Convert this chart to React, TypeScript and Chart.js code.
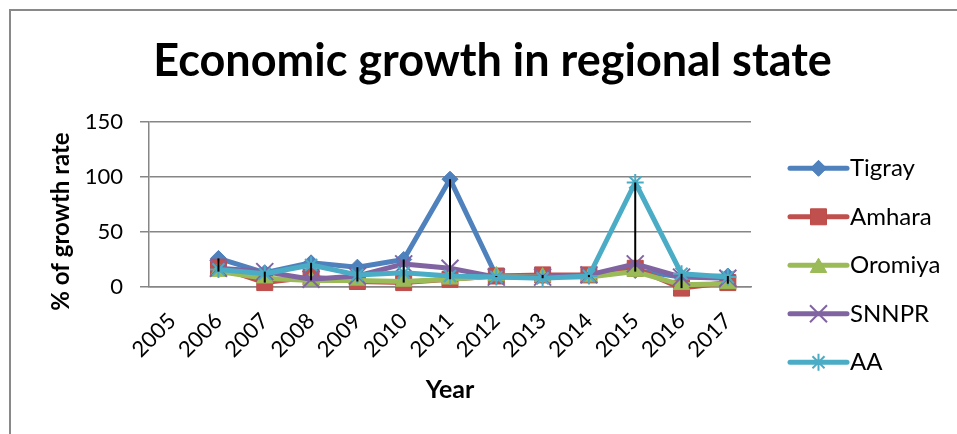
import React, { useEffect, useRef } from "react";
import { Chart, registerables } from "chart.js";

Chart.register(...registerables);

// ---------- data ----------
const years = ["2005", "2006", "2007", "2008", "2009", "2010", "2011", "2012", "2013", "2014", "2015", "2016", "2017"];
const tigray = [null, 26, 13, 22, 18, 25, 98, 10, 10, 10, 15, 9, 10];
const amhara = [null, 18, 4, 9, 5, 4, 7, 10, 11, 11, 17, -1, 4];
const oromiya = [null, 14, 8, 6, 6, 5, 7, 10, 9, 9, 14, 2, 3];
const snnpr = [null, 17, 14, 7, 10, 21, 17, 9, 9, 11, 21, 9, 8];
const aa = [null, 16, 12, 20, 11, 13, 10, 9, 8, 10, 95, 12, 9];
const seriesNames = ["Tigray", "Amhara", "Oromiya", "SNNPR", "AA"];
const yMin = 0;
const yMax = 150;
const yStep = 50;
const chartTitle = "Economic growth in regional state";
const xAxisTitle = "Year";
const yAxisTitle = "% of growth rate";

// ---------- styles ----------
const FONT = "Lato";
const GRID = "#868686";
const seriesStyles = [
  { color: "#4F81BD", border: "#4A7EBB", point: "rectRot", radius: 8, bw: 1 },
  { color: "#C0504D", border: "#BE4B48", point: "rect", radius: 11.3, bw: 1 },
  { color: "#9BBB59", border: "#98B954", point: "triangle", radius: 9.5, bw: 1 },
  { color: "#8064A2", border: "#8064A2", point: "crossRot", radius: 12, bw: 2 },
  { color: "#4BACC6", border: "#4BACC6", point: "star", radius: 8.5, bw: 2 },
];

function drawMarker(ctx: CanvasRenderingContext2D, style: string, x: number, y: number, r: number, fill: string, stroke: string, bw: number) {
  ctx.save();
  ctx.fillStyle = fill;
  ctx.strokeStyle = stroke;
  ctx.lineWidth = bw;
  ctx.beginPath();
  if (style === "rectRot") {
    ctx.moveTo(x, y - r);
    ctx.lineTo(x + r, y);
    ctx.lineTo(x, y + r);
    ctx.lineTo(x - r, y);
    ctx.closePath();
    ctx.fill();
    ctx.stroke();
  } else if (style === "rect") {
    const s = r * Math.SQRT1_2;
    ctx.rect(x - s, y - s, 2 * s, 2 * s);
    ctx.fill();
    ctx.stroke();
  } else if (style === "triangle") {
    const yc = y + r * 0.25;
    ctx.moveTo(x, yc - r);
    ctx.lineTo(x + 0.866 * r, yc + 0.5 * r);
    ctx.lineTo(x - 0.866 * r, yc + 0.5 * r);
    ctx.closePath();
    ctx.fill();
    ctx.stroke();
  } else if (style === "crossRot") {
    const d = r * Math.SQRT1_2;
    ctx.moveTo(x - d, y - d);
    ctx.lineTo(x + d, y + d);
    ctx.moveTo(x + d, y - d);
    ctx.lineTo(x - d, y + d);
    ctx.stroke();
  } else if (style === "star") {
    const d = r * Math.SQRT1_2;
    ctx.moveTo(x, y - r);
    ctx.lineTo(x, y + r);
    ctx.moveTo(x - r, y);
    ctx.lineTo(x + r, y);
    ctx.moveTo(x - d, y - d);
    ctx.lineTo(x + d, y + d);
    ctx.moveTo(x + d, y - d);
    ctx.lineTo(x - d, y + d);
    ctx.stroke();
  }
  ctx.restore();
}

const framePlugin = {
  id: "frame",
  beforeDraw(chart: any) {
    const ctx = chart.ctx;
    ctx.save();
    ctx.strokeStyle = "#898989";
    ctx.lineWidth = 2;
    ctx.beginPath();
    ctx.moveTo(10, chart.height);
    ctx.lineTo(10, 10);
    ctx.lineTo(chart.width, 10);
    ctx.stroke();
    ctx.restore();
  },
};

const highLowPlugin = {
  id: "highLow",
  afterDatasetsDraw(chart: any) {
    const { ctx } = chart;
    const xs = chart.scales.x;
    const ys = chart.scales.y;
    ctx.save();
    ctx.strokeStyle = "#000000";
    ctx.lineWidth = 2;
    (chart.data.labels as string[]).forEach((_, i) => {
      const vals = chart.data.datasets
        .map((d: any) => d.data[i])
        .filter((v: any) => v !== null && v !== undefined);
      if (vals.length < 2) return;
      const px = xs.getPixelForValue(i);
      ctx.beginPath();
      ctx.moveTo(px, ys.getPixelForValue(Math.max(...vals)));
      ctx.lineTo(px, ys.getPixelForValue(Math.min(...vals)));
      ctx.stroke();
    });
    ctx.restore();
  },
};

const textPlugin = {
  id: "extraText",
  afterDraw(chart: any) {
    const { ctx, chartArea } = chart;
    // y axis title
    ctx.save();
    ctx.fillStyle = "#000000";
    ctx.font = `bold 24px ${FONT}`;
    ctx.textAlign = "center";
    ctx.textBaseline = "middle";
    ctx.translate(61, 221.5);
    ctx.rotate(-Math.PI / 2);
    ctx.fillText(yAxisTitle, 0, 0);
    ctx.restore();

    // legend
    const lx0 = chartArea.right + 39;
    const lx1 = chartArea.right + 96;
    const tx = chartArea.right + 99;
    seriesNames.forEach((name, i) => {
      const st = seriesStyles[i];
      const ly = 168.3 + 48.5 * i;
      ctx.save();
      ctx.strokeStyle = st.color;
      ctx.lineWidth = 5;
      ctx.lineCap = "round";
      ctx.beginPath();
      ctx.moveTo(lx0, ly);
      ctx.lineTo(lx1, ly);
      ctx.stroke();
      ctx.restore();
      drawMarker(ctx, st.point, (lx0 + lx1) / 2, ly, st.radius, st.color, st.border, st.bw);
      ctx.save();
      ctx.fillStyle = "#000000";
      ctx.font = `24px ${FONT}`;
      ctx.textAlign = "left";
      ctx.textBaseline = "middle";
      ctx.fillText(name, tx, ly);
      ctx.restore();
    });
  },
};

export default function App() {
  const canvasRef = useRef<HTMLCanvasElement | null>(null);

  useEffect(() => {
    const canvas = canvasRef.current;
    if (!canvas) return;
    const allSeries = [tigray, amhara, oromiya, snnpr, aa];
    const datasets = allSeries.map((data, i) => {
      const st = seriesStyles[i];
      return {
        label: seriesNames[i],
        data,
        borderColor: st.color,
        backgroundColor: st.color,
        borderWidth: 5,
        borderCapStyle: "round",
        borderJoinStyle: "round",
        tension: 0,
        pointStyle: st.point,
        pointRadius: st.radius,
        pointBackgroundColor: st.color,
        pointBorderColor: st.border,
        pointBorderWidth: st.bw,
        clip: false,
        order: allSeries.length - i,
      };
    });

    const chart = new Chart(canvas, {
      type: "line",
      data: { labels: years, datasets: datasets as any },
      options: {
        responsive: false,
        animation: false,
        devicePixelRatio: 1,
        layout: { padding: { left: 28, right: 0, top: 0, bottom: 0 } },
        plugins: {
          legend: { display: false },
          tooltip: { enabled: false },
          title: {
            display: true,
            text: chartTitle,
            color: "#000000",
            font: { family: FONT, size: 45, weight: "bold" },
            padding: { top: 34.2, bottom: 33.8 },
          },
        },
        scales: {
          x: {
            type: "category",
            offset: true,
            grid: { display: false, drawTicks: false },
            border: { display: true, color: GRID, width: 1.5 },
            ticks: {
              color: "#000000",
              font: { family: FONT, size: 22 },
              minRotation: 45,
              maxRotation: 45,
              autoSkip: false,
              padding: 21,
            },
            title: {
              display: true,
              text: xAxisTitle,
              color: "#000000",
              font: { family: FONT, size: 25, weight: "bold" },
              padding: { top: 0, bottom: 29 },
            },
            afterFit: (s: any) => {
              s.height = 147;
            },
          },
          y: {
            type: "linear",
            position: "left",
            min: yMin,
            max: yMax,
            grid: { color: GRID, lineWidth: 1.5, tickLength: 9, tickColor: GRID },
            border: { display: true, color: GRID, width: 1.5 },
            ticks: {
              stepSize: yStep,
              color: "#000000",
              font: { family: FONT, size: 22 },
              padding: 17,
            },
            afterFit: (s: any) => {
              s.width = 121;
            },
          },
          yR: {
            type: "linear",
            position: "right",
            display: true,
            grid: { display: false, drawTicks: false },
            border: { display: false },
            ticks: { display: false },
            afterFit: (s: any) => {
              s.width = 206;
            },
          },
        },
      } as any,
      plugins: [framePlugin, highLowPlugin, textPlugin],
    });

    return () => {
      chart.destroy();
    };
  }, []);

  return (
    <div style={{ position: "absolute", left: 0, top: 0, width: 957, height: 434, background: "#ffffff" }}>
      <canvas ref={canvasRef} width={957} height={434} style={{ width: 957, height: 434, display: "block" }} />
    </div>
  );
}
